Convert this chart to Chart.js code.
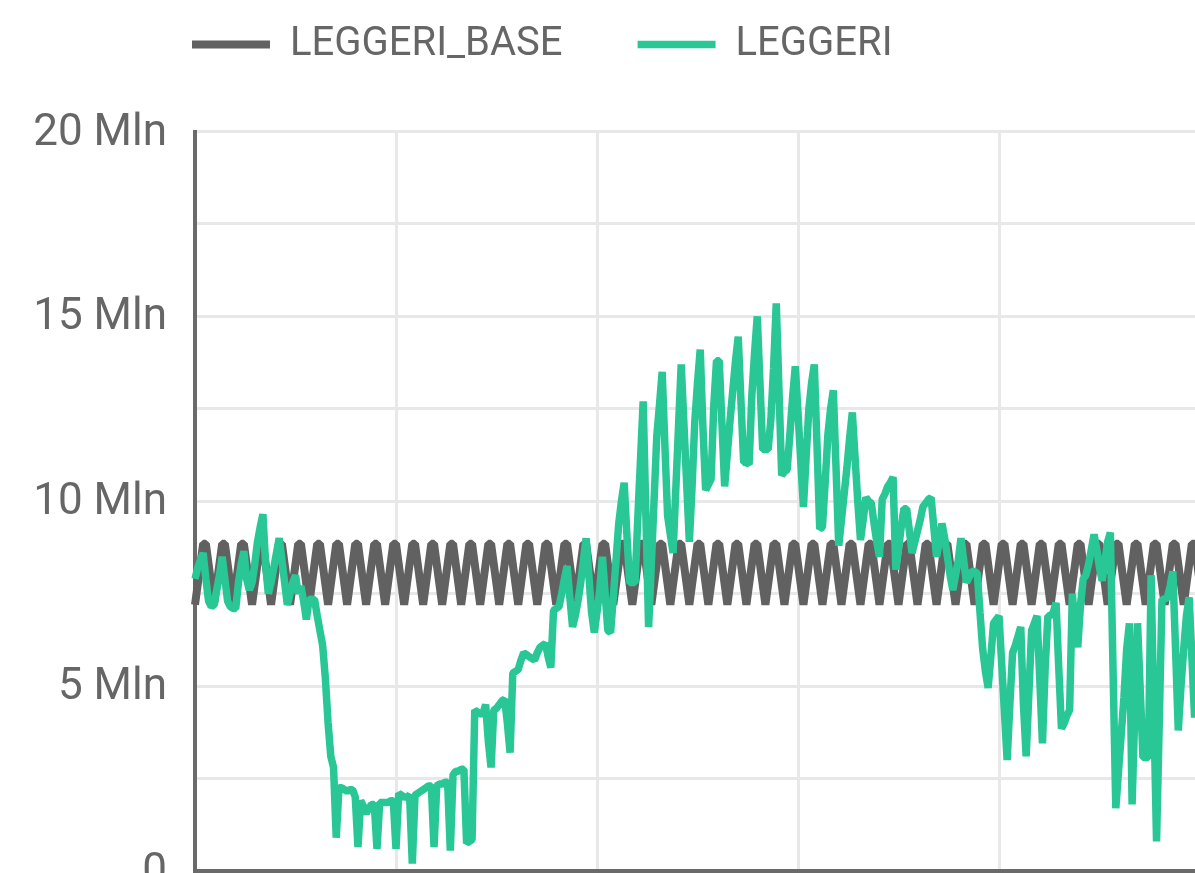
<!DOCTYPE html>
<html>
<head>
<meta charset="utf-8">
<script src="https://cdn.jsdelivr.net/npm/chart.js@4.4.1/dist/chart.umd.min.js"></script>
<style>
  html, body { margin: 0; padding: 0; background: #fff; overflow: hidden; }
  canvas { display: block; }
</style>
</head>
<body>
<canvas id="chart" width="1220" height="932"></canvas>
<script>
// series names, as shown in the legend
const seriesNames = ['LEGGERI_BASE', 'LEGGERI'];

// labelled y ticks (millions of vehicles)
const yTickValues = [0, 5, 10, 15, 20];
const yTickLabels = ['0', '5 Mln', '10 Mln', '15 Mln', '20 Mln'];

// weekly baseline, one row per week
const leggeriBase = [
  7.2, 7.75, 8.3, 8.85, 8.85, 8.3, 7.75,
  7.2, 7.75, 8.3, 8.85, 8.85, 8.3, 7.75,
  7.2, 7.75, 8.3, 8.85, 8.85, 8.3, 7.75,
  7.2, 7.75, 8.3, 8.85, 8.85, 8.3, 7.75,
  7.2, 7.75, 8.3, 8.85, 8.85, 8.3, 7.75,
  7.2, 7.75, 8.3, 8.85, 8.85, 8.3, 7.75,
  7.2, 7.75, 8.3, 8.85, 8.85, 8.3, 7.75,
  7.2, 7.75, 8.3, 8.85, 8.85, 8.3, 7.75,
  7.2, 7.75, 8.3, 8.85, 8.85, 8.3, 7.75,
  7.2, 7.75, 8.3, 8.85, 8.85, 8.3, 7.75,
  7.2, 7.75, 8.3, 8.85, 8.85, 8.3, 7.75,
  7.2, 7.75, 8.3, 8.85, 8.85, 8.3, 7.75,
  7.2, 7.75, 8.3, 8.85, 8.85, 8.3, 7.75,
  7.2, 7.75, 8.3, 8.85, 8.85, 8.3, 7.75,
  7.2, 7.75, 8.3, 8.85, 8.85, 8.3, 7.75,
  7.2, 7.75, 8.3, 8.85, 8.85, 8.3, 7.75,
  7.2, 7.75, 8.3, 8.85, 8.85, 8.3, 7.75,
  7.2, 7.75, 8.3, 8.85, 8.85, 8.3, 7.75,
  7.2, 7.75, 8.3, 8.85, 8.85, 8.3, 7.75,
  7.2, 7.75, 8.3, 8.85, 8.85, 8.3, 7.75,
  7.2, 7.75, 8.3, 8.85, 8.85, 8.3, 7.75,
  7.2, 7.75, 8.3, 8.85, 8.85, 8.3, 7.75,
  7.2, 7.75, 8.3, 8.85, 8.85, 8.3, 7.75,
  7.2, 7.75, 8.3, 8.85, 8.85, 8.3, 7.75,
  7.2, 7.75, 8.3, 8.85, 8.85, 8.3, 7.75,
  7.2, 7.75, 8.3, 8.85, 8.85, 8.3, 7.75,
  7.2, 7.75, 8.3, 8.85, 8.85, 8.3, 7.75,
  7.2, 7.75, 8.3, 8.85, 8.85, 8.3, 7.75,
  7.2, 7.75, 8.3, 8.85, 8.85, 8.3, 7.75,
  7.2, 7.75, 8.3, 8.85, 8.85, 8.3, 7.75,
  7.2, 7.75, 8.3, 8.85, 8.85, 8.3, 7.75,
  7.2, 7.75, 8.3, 8.85, 8.85, 8.3, 7.75,
  7.2, 7.75, 8.3, 8.85, 8.85, 8.3, 7.75,
  7.2, 7.75, 8.3, 8.85, 8.85, 8.3, 7.75,
  7.2, 7.75, 8.3, 8.85, 8.85, 8.3, 7.75,
  7.2, 7.75, 8.3, 8.85, 8.85, 8.3, 7.75,
  7.2, 7.75, 8.3, 8.85, 8.85, 8.3, 7.75,
  7.2, 7.75, 8.3, 8.85, 8.85, 8.3, 7.75,
  7.2, 7.75, 8.3, 8.85, 8.85, 8.3, 7.75,
  7.2, 7.75, 8.3, 8.85, 8.85, 8.3, 7.75,
  7.2, 7.75, 8.3, 8.85, 8.85, 8.3, 7.75,
  7.2, 7.75, 8.3, 8.85, 8.85, 8.3, 7.75,
  7.2, 7.75, 8.3, 8.85, 8.85, 8.3, 7.75,
  7.2, 7.75, 8.3, 8.85, 8.85, 8.3, 7.75,
  7.2, 7.75, 8.3, 8.85, 8.85, 8.3, 7.75,
  7.2, 7.75, 8.3, 8.85, 8.85, 8.3, 7.75,
  7.2, 7.75, 8.3, 8.85, 8.85, 8.3, 7.75,
  7.2, 7.75, 8.3, 8.85, 8.85, 8.3, 7.75,
  7.2, 7.75, 8.3, 8.85, 8.85, 8.3, 7.75,
  7.2, 7.75, 8.3, 8.85, 8.85, 8.3, 7.75,
  7.2, 7.75, 8.3, 8.85, 8.85, 8.3, 7.75,
  7.2, 7.75, 8.3, 8.85, 8.85, 8.3, 7.75,
  7.2, 7.75, 8.3, 8.85, 8.85, 8.3, 7.75
];

// daily values
const leggeri = [
  7.9, 8.2, 8.4, 8.6, 7.9, 7.3, 7.15, 7.2, 7.6, 8.0,
  8.5, 7.9, 7.3, 7.15, 7.1, 7.1, 7.8, 8.3, 8.65, 7.9,
  7.6, 7.8, 8.3, 8.9, 9.3, 9.65, 8.3, 7.5, 7.8, 8.2,
  8.6, 9.0, 8.4, 7.8, 7.2, 7.5, 7.8, 8.0, 7.5, 7.7,
  7.3, 6.8, 7.35, 7.35, 7.35, 6.9, 6.5, 6.1, 5.2, 4.0,
  3.1, 2.8, 0.9, 2.25, 2.25, 2.2, 2.15, 2.2, 2.2, 2.0,
  0.65, 1.9, 1.75, 1.55, 1.7, 1.8, 1.8, 0.6, 1.85, 1.85,
  1.85, 1.85, 1.9, 1.9, 0.6, 2.1, 2.05, 2.0, 2.0, 2.05,
  0.2, 2.05, 2.1, 2.15, 2.2, 2.25, 2.3, 2.3, 0.65, 2.3,
  2.35, 2.35, 2.4, 2.4, 0.55, 2.6, 2.7, 2.7, 2.75, 2.75,
  0.75, 0.8, 0.85, 4.35, 4.3, 4.25, 4.25, 4.5, 3.5, 2.8,
  4.35, 4.4, 4.5, 4.6, 4.65, 4.0, 3.2, 5.35, 5.4, 5.45,
  5.7, 5.9, 5.85, 5.8, 5.75, 5.7, 5.9, 6.05, 6.1, 6.15,
  5.8, 5.5, 7.05, 7.1, 7.15, 7.5, 7.9, 8.25, 7.4, 6.6,
  6.9, 7.3, 7.8, 8.4, 9.0, 8.0, 7.0, 6.45, 7.0, 7.6,
  8.5, 7.5, 6.5, 6.45, 7.4, 8.4, 9.4, 10.0, 10.5, 9.1,
  7.8, 7.8, 7.8, 9.5, 11.1, 12.7, 9.6, 6.6, 8.3, 10.0,
  11.75, 12.6, 13.5, 11.5, 9.6, 9.1, 8.6, 10.3, 12.0, 13.7,
  12.1, 10.5, 8.9, 10.4, 12.15, 13.2, 14.1, 12.0, 10.3, 10.45,
  10.6, 12.6, 13.8, 13.8, 12.1, 10.4, 11.3, 12.2, 13.0, 13.8,
  14.45, 12.7, 11.05, 11.05, 11.0, 12.85, 14.0, 15.0, 13.2, 11.4,
  11.4, 11.4, 12.2, 13.6, 15.35, 13.0, 10.7, 10.8, 10.85, 11.8,
  12.8, 13.65, 12.4, 11.1, 9.85, 11.2, 12.5, 13.2, 13.7, 11.5,
  9.25, 9.3, 10.5, 11.8, 12.5, 13.0, 10.9, 8.8, 9.5, 10.2,
  10.9, 11.7, 12.4, 11.2, 10.0, 8.95, 9.5, 10.1, 10.0, 9.95,
  9.4, 8.9, 8.5, 10.05, 10.2, 10.4, 10.5, 10.65, 8.15, 8.7,
  9.3, 9.8, 9.8, 9.2, 8.6, 8.9, 9.2, 9.5, 9.85, 9.95,
  10.05, 10.1, 9.3, 8.5, 8.9, 9.4, 9.0, 8.5, 8.0, 7.6,
  8.0, 8.4, 9.0, 8.4, 7.8, 7.95, 8.1, 8.1, 8.05, 7.0,
  6.0, 5.4, 4.95, 5.8, 6.7, 6.8, 6.9, 5.6, 4.3, 3.0,
  4.5, 5.9, 6.1, 6.35, 6.6, 4.5, 3.1, 4.8, 6.5, 6.7,
  6.9, 5.2, 3.45, 5.5, 6.9, 6.9, 7.0, 7.25, 5.5, 3.85,
  4.0, 4.2, 4.35, 7.5, 6.6, 6.05, 7.2, 7.9, 8.0, 8.3,
  8.7, 9.1, 8.7, 8.2, 7.85, 8.4, 8.9, 9.15, 5.4, 1.7,
  2.7, 3.7, 4.7, 6.0, 6.7, 1.8, 4.3, 6.7, 4.9, 3.07,
  3.07, 3.07, 8.0, 4.4, 0.8, 4.0, 7.35, 7.35, 7.4, 7.7,
  8.1, 6.0, 3.8, 5.0, 6.0, 6.9, 7.4, 5.8, 4.15, 5.5,
  6.8
];

// one category per day
const days = [];
for (let i = 0; i < leggeri.length; i++) {
  const d = new Date(Date.UTC(2020, 0, 23 + i));
  days.push(d.toISOString().slice(0, 10));
}

const GREY = '#616161';
const GREEN = '#29c696';
const GRID = '#e8e8e8';
const AXIS = '#6a6a6a';
const TEXT = '#666666';

// the legend sits further right than Chart.js would centre or start it
const legendShift = {
  id: 'legendShift',
  afterLayout(chart, args, opts) {
    const lg = chart.legend;
    lg.left += opts.x;
    lg.right += opts.x;
  }
};

new Chart(document.getElementById('chart'), {
  type: 'line',
  plugins: [legendShift],
  data: {
    labels: days,
    datasets: [
      {
        label: seriesNames[0],
        data: leggeriBase,
        borderColor: GREY,
        backgroundColor: GREY,
        pointBorderColor: GREY,
        pointBorderWidth: 8,
        borderWidth: 8,
        order: 1
      },
      {
        label: seriesNames[1],
        data: leggeri,
        borderColor: GREEN,
        backgroundColor: GREEN,
        pointBorderColor: GREEN,
        pointBorderWidth: 7.5,
        borderWidth: 7.5,
        order: 0
      }
    ]
  },
  options: {
    responsive: false,
    animation: false,
    events: [],
    layout: { padding: { top: -50.5, left: 0, right: 20, bottom: 0 } },
    elements: {
      point: { radius: 0, hoverRadius: 0 },
      line: { tension: 0, borderJoinStyle: 'bevel', borderCapStyle: 'butt' }
    },
    plugins: {
      tooltip: { enabled: false },
      legendShift: { x: 117 },
      legend: {
        position: 'top',
        align: 'start',
        labels: {
          usePointStyle: true,
          pointStyle: 'line',
          pointStyleWidth: 78,
          padding: 75,
          color: TEXT,
          font: { family: 'Roboto', size: 40 },
          sort: (a, b) => a.datasetIndex - b.datasetIndex
        }
      },
      // empty spacer between the legend and the plot
      title: {
        display: true,
        text: '',
        weight: 500,
        font: { size: 10, lineHeight: 1 },
        padding: { top: 0, bottom: 47 }
      }
    },
    scales: {
      x: {
        ticks: { display: false, autoSkip: false },
        grid: {
          color: ctx => (ctx.index % 74 === 0 ? GRID : 'rgba(0,0,0,0)'),
          lineWidth: 3,
          drawTicks: false
        },
        border: { color: AXIS, width: 4 },
        afterFit: scale => { scale.height = 61; }
      },
      y: {
        min: 0,
        max: 20,
        ticks: {
          stepSize: 2.5,
          padding: 28,
          labelOffset: 2,
          color: TEXT,
          font: { family: 'Roboto', size: 44 },
          callback: v => {
            const k = yTickValues.indexOf(v);
            return k >= 0 ? yTickLabels[k] : '';
          }
        },
        grid: { color: GRID, lineWidth: 3, drawTicks: false },
        border: { color: AXIS, width: 4 },
        afterFit: scale => { scale.width = 195; }
      }
    }
  }
});
</script>
</body>
</html>
